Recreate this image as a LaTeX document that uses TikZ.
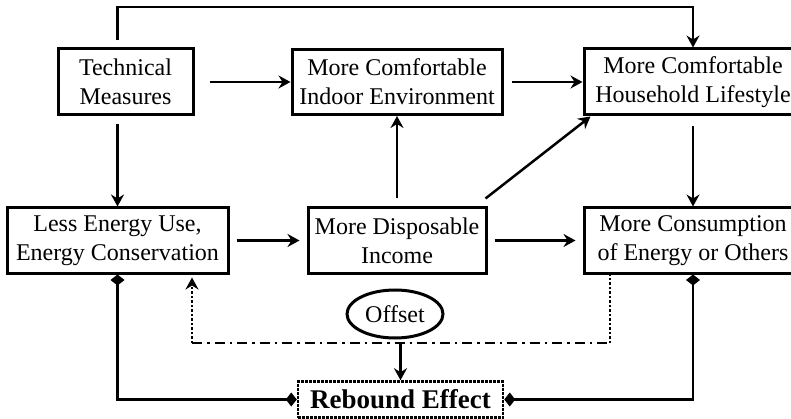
\documentclass[tikz,border=0pt]{standalone}
\usepackage{fontspec}
\setmainfont{Liberation Serif}
\usepackage{tikz}
\usetikzlibrary{arrows.meta, positioning, calc, shapes}
\tikzset{>={Stealth[length=12pt,width=13pt,inset=4pt]}}
\tikzset{box/.style={draw, line width=3pt, align=center, inner sep=0pt, font=\fontsize{24}{29}\selectfont}}
\tikzset{link/.style={line width=2.5pt}}
\tikzset{dia/.style={{Diamond[length=11pt,width=14pt]}-{Diamond[length=11pt,width=14pt]}}}

\begin{document}
\begin{tikzpicture}[x=1pt,y=-1pt]
	\useasboundingbox (0,0) rectangle (791,419);

	% boxes
	\node [box, minimum width=135pt, minimum height=66pt] (tech) at (125.5,82) {Technical\\Measures};
	\node [box, minimum width=210pt, minimum height=65pt] (indoor) at (397,82) {More Comfortable\\Indoor Environment};
	\node [box, minimum width=218pt, minimum height=66pt] (life) at (693,82) {More Comfortable\\Household Lifestyle};
	\node [box, minimum width=221pt, minimum height=65pt] (less) at (117.5,240.5) {Less Energy Use,\\Energy Conservation};
	\node [box, minimum width=178pt, minimum height=65pt] (income) at (397,240.5) {More Disposable\\Income};
	\node [box, minimum width=218pt, minimum height=65pt] (consum) at (693,240.5) {More Consumption\\of Energy or Others};
	\node [box, ellipse, minimum width=96pt, minimum height=48pt] (offset) at (395,314) {Offset};
	\node [box, densely dotted, line width=2.5pt, minimum width=205pt, minimum height=36pt, font=\fontsize{27}{30}\selectfont\bfseries] (rebound) at (400.5,399.5) {Rebound Effect};

	\coordinate (top) at (117.5,7);
	\coordinate (offl) at (192,343);
	\coordinate (offr) at (610,343);

	% top row
	\draw [link,->] ([yshift=7pt]tech.north -| less.north) -- (top) -| (life.north);
	\draw [link,->] ([xshift=15pt]tech.east) -- (indoor.west);
	\draw [link,->] ([xshift=8pt]indoor.east) -- (life.west);
	\draw [link,->] ([yshift=-8pt]tech.south -| less.north) -- (less.north);
	\draw [link,->] ([yshift=-10pt]life.south) -- (consum.north);

	% middle row
	\draw [link,->,shorten <=8pt] (income.north) -- (indoor.south);
	\draw [link,->] ([shift={(-2pt,8pt)}]income.north east) -- ([xshift=8pt]life.south west);
	\draw [link,->,shorten <=7pt,shorten >=7pt] (less) -- (income);
	\draw [link,->,shorten <=7pt,shorten >=7pt] (income) -- (consum);

	% rebound
	\draw [link,dia] (less.south) |- (rebound.west);
	\draw [link,dia] (consum.south) |- (rebound.east);
	\draw [link,dotted,->,shorten >=3pt] (offl) -- (offl |- less.south);
	\draw [link,dash pattern=on 10pt off 5pt on 2.5pt off 5pt] (offl) -- (offr);
	\draw [link,dotted] (offr) -- (offr |- consum.south);
	\draw [link,->] (rebound.north |- offl) -- (rebound.north);

\end{tikzpicture}
\end{document}
